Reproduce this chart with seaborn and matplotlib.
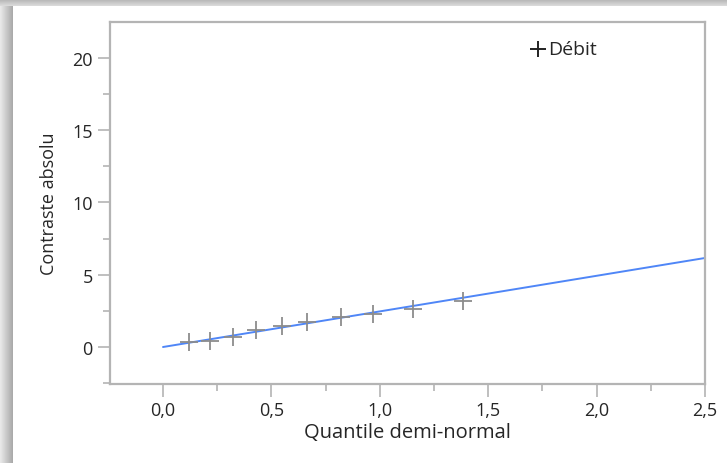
import numpy as np
import pandas as pd
import matplotlib
matplotlib.use("Agg")
import matplotlib.pyplot as plt
from matplotlib.ticker import MultipleLocator, FuncFormatter
import seaborn as sns

# Half-normal plot of absolute contrasts
quantiles = [0.12, 0.217, 0.323, 0.429, 0.549, 0.664, 0.821, 0.969, 1.153, 1.384]
contrasts = [0.35, 0.42, 0.69, 1.18, 1.45, 1.73, 2.08, 2.28, 2.63, 3.18]
line_x = [0.0, 2.5]
line_y = [0.0, 6.16]
legend_label = "Débit"
x_label = "Quantile demi-normal"
y_label = "Contraste absolu"

sns.set_theme(style="white")
plt.rcParams["font.family"] = ["Open Sans", "DejaVu Sans"]

W, H = 727, 464
fig = plt.figure(figsize=(W / 100, H / 100), dpi=100)

# window drop shadow on the left and top edges
left_band = fig.add_axes([0, 0, 13 / W, 1])
grad = np.linspace(0.92, 0.66, 64).reshape(1, -1)
left_band.imshow(grad, aspect="auto", cmap="gray", vmin=0, vmax=1, extent=[0, 1, 0, 1])
left_band.axis("off")
top_band = fig.add_axes([0, 1 - 7 / H, 1, 7 / H])
grad_t = np.linspace(0.70, 0.86, 16).reshape(-1, 1)
top_band.imshow(grad_t, aspect="auto", cmap="gray", vmin=0, vmax=1, extent=[0, 1, 0, 1])
top_band.axis("off")

ax = fig.add_axes([110 / W, 1 - 385 / H, 595 / W, 362 / H])

df = pd.DataFrame({"q": quantiles, "c": contrasts})
fit = pd.DataFrame({"q": line_x, "c": line_y})

sns.lineplot(data=fit, x="q", y="c", ax=ax, color="#4f86f7", linewidth=1.4, zorder=2)
sns.scatterplot(data=df, x="q", y="c", ax=ax, marker="+", s=150, color="#8c8c8c",
                linewidth=1.3, zorder=3)

ax.set_xlim(-0.2445, 2.5)
ax.set_ylim(-2.56, 22.49)

ax.xaxis.set_major_locator(MultipleLocator(0.5))
ax.xaxis.set_minor_locator(MultipleLocator(0.25))
ax.yaxis.set_major_locator(MultipleLocator(5))
ax.yaxis.set_minor_locator(MultipleLocator(2.5))
ax.xaxis.set_major_formatter(FuncFormatter(lambda v, p: f"{v:.1f}".replace(".", ",")))
ax.yaxis.set_major_formatter(FuncFormatter(lambda v, p: f"{v:.0f}"))

spine_col = "#b4b4b4"
txt_col = "#262626"
for s in ax.spines.values():
    s.set_color(spine_col)
    s.set_linewidth(1.6)
ax.tick_params(axis="both", which="major", length=9, width=1.2, color=spine_col,
               labelsize=13, labelcolor=txt_col, pad=3.5, bottom=True, left=True)
ax.tick_params(axis="both", which="minor", length=5, width=1.2, color=spine_col,
               bottom=True, left=True)

ax.set_xlabel(x_label, fontsize=14.5, color=txt_col, labelpad=2)
ax.set_ylabel(y_label, fontsize=13, color=txt_col, labelpad=10)

# legend entry
ax.plot([1.73], [20.6], marker="+", markersize=12, mew=1.4, color="#222222",
        linestyle="none", clip_on=False)
ax.text(1.778, 20.6, legend_label, fontsize=14, color=txt_col, va="center", ha="left")

fig.savefig("out.png", dpi=100)
